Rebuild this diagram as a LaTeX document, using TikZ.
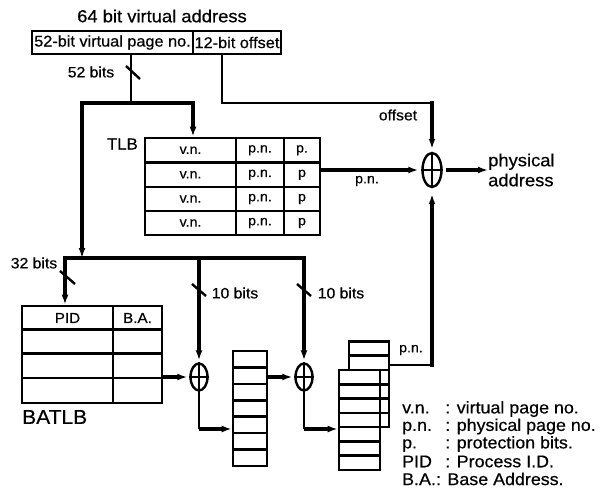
\documentclass[tikz,border=0pt]{standalone}
\usepackage{fontspec}
\setmainfont[FakeStretch=1.05,FakeBold=0.5]{Liberation Sans}
\usetikzlibrary{shapes.geometric,arrows.meta,calc}
\tikzset{
  thinline/.style={line width=1.6pt},
  midline/.style={line width=2.3pt},
  bus/.style={line width=3.4pt,line join=miter},
  arr/.style={-{Latex[length=10pt,width=7pt]}},
  box/.style={draw,line width=2.6pt,rectangle,inner sep=0pt,fill=white},
  grid/.style={line width=2.6pt},
  sumnode/.style={draw,ellipse,line width=2.4pt,inner sep=0pt},
  lbl/.style={inner sep=0pt,font=\fontsize{15}{17}\selectfont},
  cell/.style={inner sep=0pt,font=\fontsize{13.5}{15}\selectfont},
  legend/.style={inner sep=0pt,anchor=west,font=\fontsize{17}{19}\selectfont},
  slash/.style={line width=2.4pt},
}
\begin{document}
\begin{tikzpicture}[x=1pt,y=-1pt]
\useasboundingbox (0,0) rectangle (600,503);

% title and virtual address
\node[inner sep=0pt,font=\fontsize{17.5}{19}\selectfont] (title) at (162,16) {64 bit virtual address};
\node[box,minimum width=161pt,minimum height=23pt,font=\fontsize{15.5}{17}\selectfont] (vpn) at (112.5,42.5) {52-bit virtual page no.};
\node[box,minimum width=88pt,minimum height=23pt,font=\fontsize{15.5}{17}\selectfont] (off) at (237,42.5) {12-bit offset};

% TLB
\node[box,minimum width=175pt,minimum height=97pt] (tlb) at (232.5,186.5) {};
\foreach \yy in {162.5,187,211} \draw[grid] (145,\yy) -- (320,\yy);
\draw[grid] (236,138) -- (236,235) (284,138) -- (284,235);
\foreach \yy/\pp [count=\i] in {150.25/p.,174.75/p,199/p,223/p}{
  \node[cell] (vn\i) at (190.5,\yy) {v.n.};
  \node[cell] (pn\i) at (260,\yy) {p.n.};
  \node[cell] (pp\i) at (302,\yy) {\pp};
}
\node[inner sep=0pt,anchor=east,font=\fontsize{16}{18}\selectfont] (tlblabel) at (138,144) {TLB};

% adders
\node[sumnode,minimum width=19pt,minimum height=34pt] (sum0) at (432,170) {};
\node[sumnode,minimum width=17pt,minimum height=27pt] (sum1) at (199,377) {};
\node[sumnode,minimum width=17pt,minimum height=27pt] (sum2) at (304,377) {};
\foreach \s in {sum0,sum1,sum2}
  \draw[line width=2.2pt] (\s.north) -- (\s.south) (\s.west) -- (\s.east);

% BATLB
\node[box,minimum width=140pt,minimum height=97pt] (batlb) at (92,354.5) {};
\foreach \yy in {329.5,353.5,378} \draw[grid] (22,\yy) -- (162,\yy);
\draw[grid] (113,306) -- (113,403);
\node[inner sep=0pt,font=\fontsize{14.5}{16}\selectfont] (pidh) at (67.5,318) {PID};
\node[inner sep=0pt,font=\fontsize{14.5}{16}\selectfont] (bah) at (137.5,318) {B.A.};
\node[inner sep=0pt,anchor=west,font=\fontsize{20}{22}\selectfont] (batlblabel) at (22,417) {BATLB};

% page table stacks
\node[box,minimum width=34pt,minimum height=115pt] (stack2) at (250,408.5) {};
\foreach \k in {1,...,6}{\pgfmathsetmacro\yy{351+\k*16.43}\draw[grid] (233,\yy) -- (267,\yy);}
\node[box,minimum width=40pt,minimum height=85.7pt] (stack3b) at (369,384.25) {};
\foreach \k in {1,...,5}{\pgfmathsetmacro\yy{341.4+\k*14.29}\draw[grid] (349,\yy) -- (389,\yy);}
\node[box,minimum width=41pt,minimum height=100pt] (stack3f) at (359.5,420) {};
\foreach \k in {1,...,6}{\pgfmathsetmacro\yy{370+\k*14.29}\draw[grid] (339,\yy) -- (380,\yy);}

% virtual page number path
\coordinate (j0) at (82,103);
\coordinate (j1) at (131,103);
\coordinate (j2) at (193,103);
\draw[thinline] (j1 |- vpn.south) -- (j1);
\draw[slash] (126,66) -- (140,79);
\node[lbl] (l52) at (91,72) {52 bits};
\draw[bus,arr] (j1) -- (j2) -- (j2 |- tlb.north);
\coordinate (b0) at (65,258);
\coordinate (b1) at (sum1 |- b0);
\coordinate (b3) at (sum2 |- b0);
\coordinate (k0) at (j0 |- b0);
\draw[bus,arr] (j1) -- (j0) -- (k0);
\draw[bus,arr] (b1) -- (b0) -- (b0 |- batlb.north);
\draw[bus,arr,shorten >=2pt] (b1) -- (b3) -- (sum2.north);
\draw[bus,arr,shorten >=2pt] (b1) -- (sum1.north);
\draw[slash] (60,271) -- (75,284);
\node[lbl] (l32) at (34,263) {32 bits};
\draw[slash] (192,284) -- (206,296);
\node[lbl] (l10a) at (235,293) {10 bits};
\draw[slash] (297,284) -- (311,296);
\node[lbl] (l10b) at (341,293) {10 bits};

% offset path
\coordinate (o1) at (222,103);
\coordinate (o2) at (432,103);
\draw[midline] (o1 |- off.south) -- (o1) -- (o2);
\draw[bus,arr,line cap=rect,shorten >=3pt] (o2) -- (sum0.north);
\node[lbl] (loff) at (398,115) {offset};

% TLB to adder
\draw[bus,arr,shorten >=3pt] (sum0.west -| tlb.east) -- (sum0.west);
\node[cell] (lpn1) at (367,181) {p.n.};

% output
\node[inner sep=0pt,anchor=west,align=left,font=\fontsize{17.5}{20}\selectfont] (phys) at (488,170) {physical\\address};
\draw[bus,arr] ($(sum0.east)+(3,0)$) -- (phys.west);

% BATLB and page tables
\draw[bus,arr,shorten >=2pt] (sum1.west -| batlb.east) -- (sum1.west);
\coordinate (c1) at (199,429);
\draw[thinline] (sum1.south) -- (c1);
\draw[bus,arr] (c1) -- (c1 -| stack2.west);
\draw[bus,arr,shorten >=2pt] (sum2.west -| stack2.east) -- (sum2.west);
\coordinate (c2) at (304,429);
\draw[thinline] (sum2.south) -- (c2);
\draw[bus,arr] (c2) -- (c2 -| stack3f.west);

% physical page number from last table
\coordinate (q) at (432,365);
\draw[thinline] (stack3b.east |- q) -- (q);
\draw[bus,arr,line cap=rect,shorten >=6pt] (q) -- (sum0.south);
\node[cell] (lpn2) at (411,350) {p.n.};

% legend
\node[legend] (leg1) at (402,409) {\makebox[43pt][l]{v.n.}: virtual page no.};
\node[legend] (leg2) at (402,426.5) {\makebox[43pt][l]{p.n.}: physical page no.};
\node[legend] (leg3) at (402,444) {\makebox[43pt][l]{p.}: protection bits.};
\node[legend] (leg4) at (402,461.5) {\makebox[43pt][l]{PID}: Process I.D.};
\node[legend] (leg5) at (402,479) {B.A.: Base Address.};
\end{tikzpicture}
\end{document}
